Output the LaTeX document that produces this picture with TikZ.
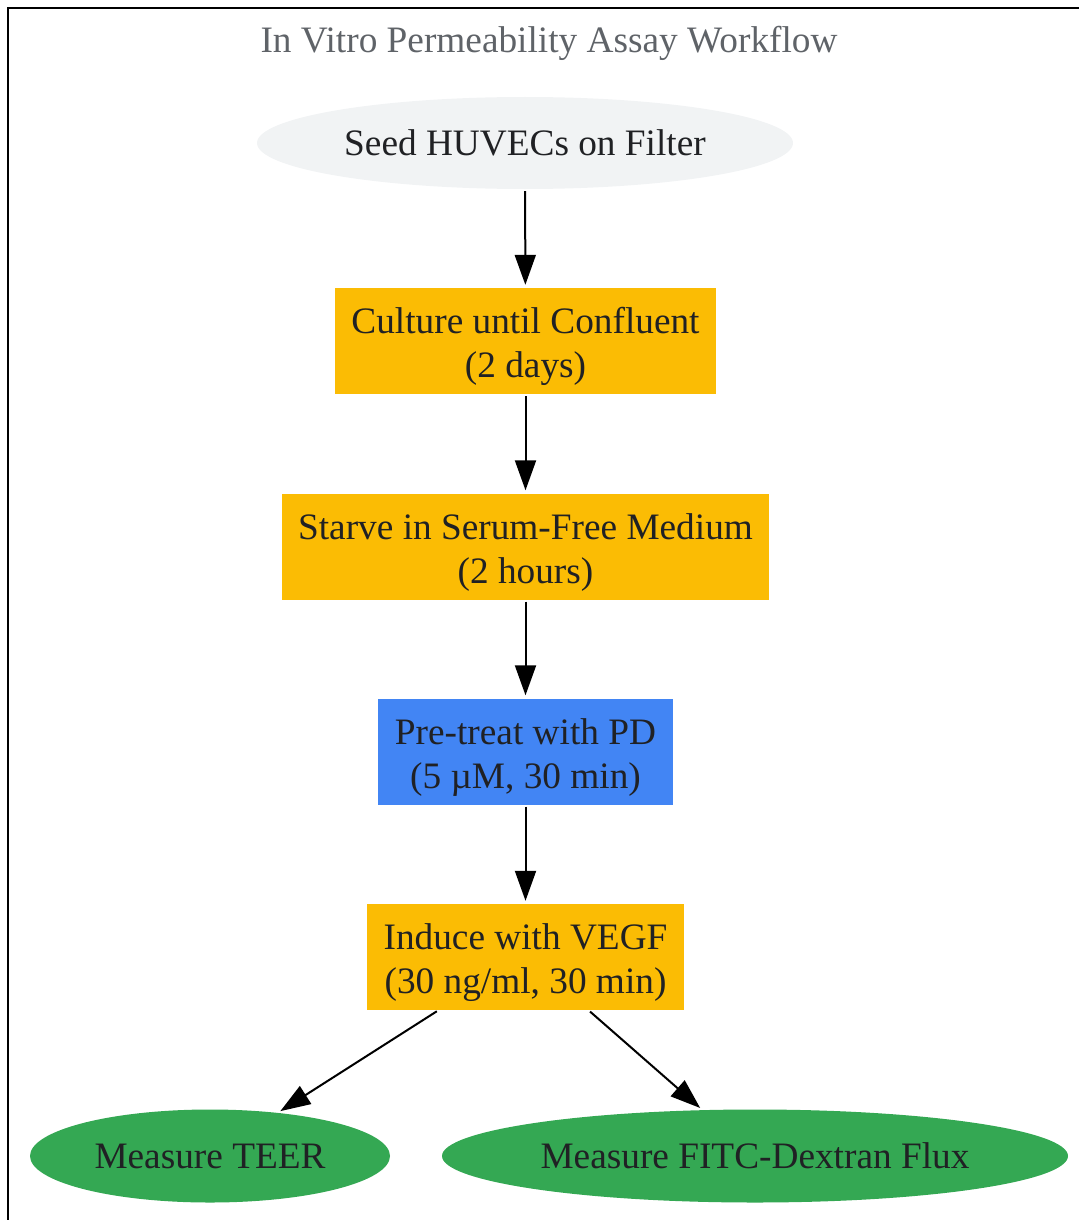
\documentclass[tikz,border=0pt]{standalone}
\usepackage{fontspec}
\setmainfont{Liberation Serif}
\usetikzlibrary{shapes.geometric,arrows.meta}
\definecolor{seedgray}{HTML}{F1F3F4}
\definecolor{stepyellow}{HTML}{FBBC04}
\definecolor{stepblue}{HTML}{4285F4}
\definecolor{measuregreen}{HTML}{34A853}
\definecolor{textdark}{HTML}{202124}
\definecolor{titlegray}{HTML}{5F6368}
\newcommand{\linestrut}{\rule{0pt}{37pt}}
\begin{document}
\begin{tikzpicture}[x=1pt, y=-1pt,
  every node/.style={font=\fontsize{37.3}{44}\selectfont, text=textdark},
  stepbox/.style={rectangle, fill=#1, align=center, inner xsep=16.5pt, inner ysep=0pt, minimum height=106pt},
  oval/.style={ellipse, fill=#1, inner sep=0pt},
  flow/.style={-{Triangle[length=30pt, width=21pt]}, line width=2pt, shorten <=2pt, shorten >=3pt}
]
\useasboundingbox (0,0) rectangle (1079,1220);

% Frame
\draw[line width=2.2pt] (8,1220) -- (8,8) -- (1079,8);

% Title
\node[text=titlegray] (title) at (549,43) {In Vitro Permeability Assay Workflow};

% Steps
\node[oval=seedgray, minimum width=536pt, minimum height=92pt] (seed) at (525,143) {Seed HUVECs on Filter};
\node[stepbox=stepyellow] (culture) at (525.5,341) {\linestrut Culture until Confluent\\(2 days)};
\node[stepbox=stepyellow] (starve) at (525.5,546.5) {\linestrut Starve in Serum-Free Medium\\(2 hours)};
\node[stepbox=stepblue] (pretreat) at (525.5,751.5) {\linestrut Pre-treat with PD\\(5 µM, 30 min)};
\node[stepbox=stepyellow] (induce) at (525.5,957) {\linestrut Induce with VEGF\\(30 ng/ml, 30 min)};

% Readouts
\node[oval=measuregreen, minimum width=360pt, minimum height=93pt] (teer) at (210,1156) {Measure TEER};
\node[oval=measuregreen, minimum width=626pt, minimum height=93pt] (fitc) at (755,1156) {Measure FITC-Dextran Flux};

% Arrows
\draw[flow] (seed) -- (culture);
\draw[flow] (culture) -- (starve);
\draw[flow] (starve) -- (pretreat);
\draw[flow] (pretreat) -- (induce);
\draw[flow] ([xshift=-87pt]induce.south) -- (teer);
\draw[flow] ([xshift=63pt]induce.south) -- (fitc);

\end{tikzpicture}
\end{document}
